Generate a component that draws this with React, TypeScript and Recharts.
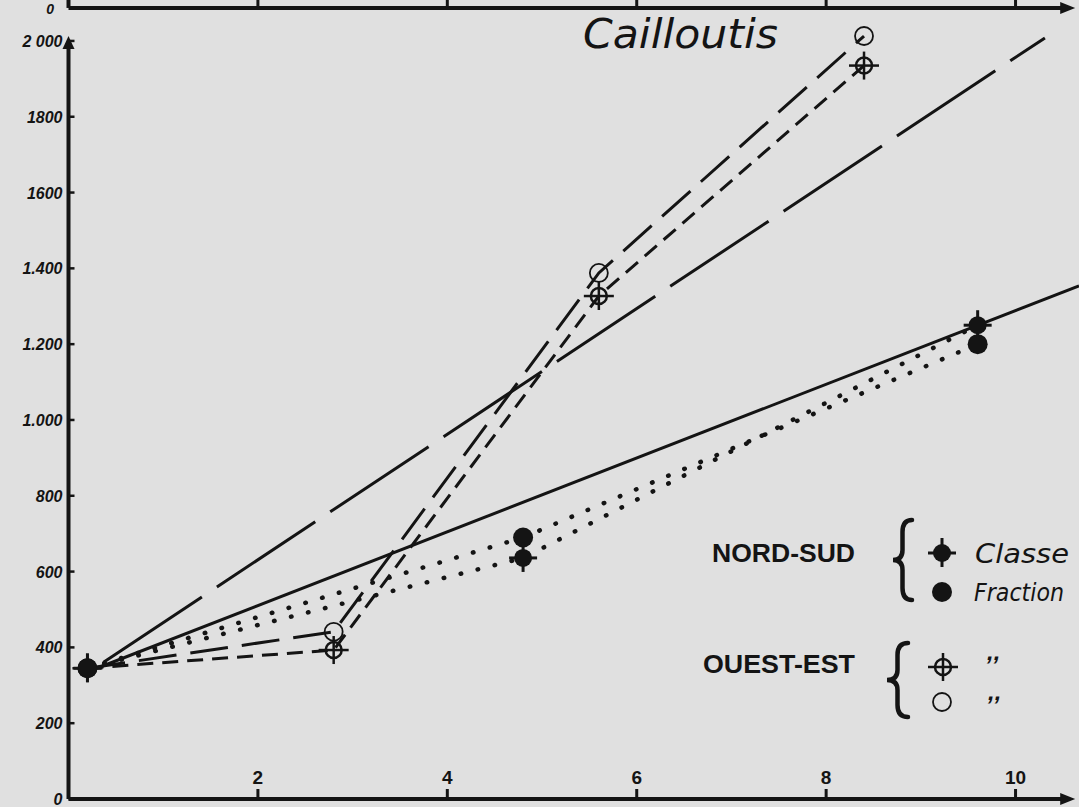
import React from 'react';
import { LineChart, Line, XAxis, YAxis, ReferenceLine, Legend } from 'recharts';

// ---------- data ----------
const nsClasseX = [0.2, 4.8, 9.6];
const nsClasseY = [345, 636, 1250];
const nsFractionX = [0.2, 4.8, 9.6];
const nsFractionY = [345, 690, 1200];
const oeClasseX = [0.2, 2.8, 5.6, 8.4];
const oeClasseY = [345, 393, 1327, 1935];
const oeFractionX = [0.2, 2.8, 5.6, 8.4];
const oeFractionY = [345, 441, 1388, 2013];
const nsTrendX = [0.3, 10.67];
const nsTrendY = [345, 1354];
const oeTrendX = [0.37, 10.31];
const oeTrendY = [361, 2008];

const xTicks = [2, 4, 6, 8, 10];
const xTickLabels = ['2', '4', '6', '8', '10'];
const yTicks = [0, 200, 400, 600, 800, 1000, 1200, 1400, 1600, 1800, 2000];
const yTickLabels = ['0', '200', '400', '600', '800', '1.000', '1.200', '1.400', '1600', '1800', '2 000'];
const topAxisTicks = [2, 4, 6, 8, 10];

const TITLE = 'Cailloutis';
const NS_LABEL = 'NORD-SUD';
const OE_LABEL = 'OUEST-EST';
const CLASSE_LABEL = 'Classe';
const FRACTION_LABEL = 'Fraction';
const DITTO = ',,';

// ---------- layout / style ----------
const W = 1079;
const H = 807;
const BG = '#e0e0e0';
const INK = '#141414';
const X_MAX = 10.67;
const Y_MAX = 2108;
const X_ARROW = 10.63;
const Y_ARROW = 2013;
const TOP_AXIS_Y = 2087;

const toPoints = (xs: number[], ys: number[]) => xs.map((x, i) => ({ x, y: ys[i] }));

const arrowShape = (len: number, half: number) => (p: any) => {
  const { x1, y1, x2, y2 } = p;
  const a = Math.atan2(y2 - y1, x2 - x1);
  const c = Math.cos(a);
  const s = Math.sin(a);
  const bx = x2 - len * c;
  const by = y2 - len * s;
  return (
    <g>
      <line x1={x1} y1={y1} x2={bx + c * 2} y2={by + s * 2} stroke={INK} strokeWidth={4} />
      <polygon
        points={`${x2},${y2} ${bx - half * s},${by + half * c} ${bx + half * s},${by - half * c}`}
        fill={INK}
      />
    </g>
  );
};

// ---------- markers ----------
const FilledCross = ({ cx, cy }: any) => (
  <g>
    <line x1={cx - 14} x2={cx + 14} y1={cy} y2={cy} stroke={INK} strokeWidth={3} />
    <line x1={cx} x2={cx} y1={cy - 15} y2={cy + 14} stroke={INK} strokeWidth={3} />
    <circle cx={cx} cy={cy} r={9} fill={INK} />
  </g>
);
const FilledDot = ({ cx, cy }: any) => <circle cx={cx} cy={cy} r={10} fill={INK} />;
const OpenCross = ({ cx, cy }: any) => (
  <g>
    <circle cx={cx} cy={cy} r={8} fill="none" stroke={INK} strokeWidth={2.5} />
    <line x1={cx - 15} x2={cx + 15} y1={cy} y2={cy} stroke={INK} strokeWidth={2.5} />
    <line x1={cx} x2={cx} y1={cy - 14} y2={cy + 14} stroke={INK} strokeWidth={2.5} />
  </g>
);
const OpenCircle = ({ cx, cy }: any) => (
  <circle cx={cx} cy={cy} r={9} fill="none" stroke={INK} strokeWidth={1.8} />
);

const dotOf = (Comp: any) => (p: any) => <Comp key={`m-${p.index}`} cx={p.cx} cy={p.cy} />;

// ---------- ticks ----------
const XTick = (p: any) => {
  const { x, y, index } = p;
  return (
    <g>
      <line x1={x} x2={x} y1={y} y2={y - 10} stroke={INK} strokeWidth={3} />
      <text
        x={x}
        y={y - 15}
        textAnchor="middle"
        fontFamily="Liberation Sans, Arial, sans-serif"
        fontWeight="bold"
        fontSize={19}
        fill={INK}
      >
        {xTickLabels[index]}
      </text>
    </g>
  );
};

const YTick = (p: any) => {
  const { x, y, index } = p;
  return (
    <g>
      <line x1={x} x2={x + 6} y1={y} y2={y} stroke={INK} strokeWidth={2.5} />
      <text
        x={x - 6}
        y={y + 6}
        textAnchor="end"
        fontFamily="Liberation Sans, Arial, sans-serif"
        fontWeight="bold"
        fontStyle="italic"
        fontSize={16}
        fill={INK}
      >
        {yTickLabels[index]}
      </text>
    </g>
  );
};

const brace = (xl: number, xr: number, yt: number, yb: number) => {
  const xm = (xl + xr) / 2;
  const ym = (yt + yb) / 2;
  return `M ${xr} ${yt} Q ${xm} ${yt} ${xm} ${yt + 12} L ${xm} ${ym - 10} Q ${xm} ${ym} ${xl} ${ym} Q ${xm} ${ym} ${xm} ${ym + 10} L ${xm} ${yb - 12} Q ${xm} ${yb} ${xr} ${yb}`;
};

const LegendContent = () => {
  const sans = 'Liberation Sans, Arial, sans-serif';
  const ital = 'DejaVu Sans, sans-serif';
  return (
    <svg width={389} height={220} style={{ overflow: 'visible', display: 'block' }}>
      <text x={22} y={52} fontFamily={sans} fontWeight="bold" fontSize={26} fill={INK} textLength={143} lengthAdjust="spacingAndGlyphs">
        {NS_LABEL}
      </text>
      <path d={brace(203, 222, 10, 90)} stroke={INK} strokeWidth={4.5} fill="none" strokeLinecap="round" />
      <FilledCross cx={252} cy={43} />
      <text x={285} y={53} fontFamily={ital} fontStyle="italic" fontSize={26} fill={INK} textLength={94} lengthAdjust="spacingAndGlyphs">
        {CLASSE_LABEL}
      </text>
      <FilledDot cx={252} cy={82} />
      <text x={284} y={91} fontFamily={ital} fontStyle="italic" fontSize={25} fill={INK} textLength={90} lengthAdjust="spacingAndGlyphs">
        {FRACTION_LABEL}
      </text>

      <text x={13} y={163} fontFamily={sans} fontWeight="bold" fontSize={26} fill={INK} textLength={152} lengthAdjust="spacingAndGlyphs">
        {OE_LABEL}
      </text>
      <path d={brace(197, 218, 133, 207)} stroke={INK} strokeWidth={4.5} fill="none" strokeLinecap="round" />
      <OpenCross cx={253} cy={157} />
      <text x={297} y={150} fontFamily={sans} fontWeight="bold" fontStyle="italic" fontSize={24} fill={INK}>
        {DITTO}
      </text>
      <OpenCircle cx={252} cy={192} />
      <text x={298} y={190} fontFamily={sans} fontWeight="bold" fontStyle="italic" fontSize={24} fill={INK}>
        {DITTO}
      </text>
    </svg>
  );
};

export default function App() {
  return (
    <div style={{ position: 'absolute', left: 0, top: 0, width: W, height: H, background: BG, overflow: 'hidden' }}>
      <LineChart width={W} height={H} margin={{ top: 0, right: 0, bottom: 0, left: 0 }} style={{ background: BG }}>
        <XAxis
          dataKey="x"
          type="number"
          domain={[0, X_MAX]}
          allowDataOverflow
          ticks={xTicks}
          interval={0}
          height={8}
          tickSize={0}
          tickMargin={0}
          axisLine={false}
          tickLine={false}
          tick={<XTick />}
        />
        <YAxis
          type="number"
          domain={[0, Y_MAX]}
          allowDataOverflow
          ticks={yTicks}
          interval={0}
          width={68.5}
          tickSize={0}
          tickMargin={0}
          axisLine={false}
          tickLine={false}
          tick={<YTick />}
        />

        {/* main axes with arrows */}
        <ReferenceLine segment={[{ x: 0, y: 0 }, { x: 0, y: Y_ARROW }]} ifOverflow="visible" shape={arrowShape(13, 6)} />
        <ReferenceLine segment={[{ x: 0, y: 0 }, { x: X_ARROW, y: 0 }]} ifOverflow="visible" shape={arrowShape(15, 6)} />

        {/* partial axis of the chart above */}
        <ReferenceLine segment={[{ x: 0, y: TOP_AXIS_Y }, { x: X_ARROW, y: TOP_AXIS_Y }]} ifOverflow="visible" shape={arrowShape(15, 6)} />
        <ReferenceLine segment={[{ x: 0, y: TOP_AXIS_Y }, { x: 0, y: Y_MAX }]} ifOverflow="visible" stroke={INK} strokeWidth={4} />
        {topAxisTicks.map((t) => (
          <ReferenceLine key={`tt-${t}`} segment={[{ x: t, y: TOP_AXIS_Y }, { x: t, y: Y_MAX }]} ifOverflow="visible" stroke={INK} strokeWidth={3} />
        ))}

        {/* trend lines */}
        <Line data={toPoints(nsTrendX, nsTrendY)} dataKey="y" stroke={INK} strokeWidth={3} dot={false} activeDot={false} isAnimationActive={false} />
        <Line data={toPoints(oeTrendX, oeTrendY)} dataKey="y" stroke={INK} strokeWidth={3} strokeDasharray="118 18" dot={false} activeDot={false} isAnimationActive={false} />

        {/* Ouest-Est */}
        <Line data={toPoints(oeFractionX, oeFractionY)} dataKey="y" name="Ouest-Est Fraction" stroke={INK} strokeWidth={3} strokeDasharray="38 14" dot={dotOf(OpenCircle)} activeDot={false} isAnimationActive={false} />
        <Line data={toPoints(oeClasseX, oeClasseY)} dataKey="y" name="Ouest-Est Classe" stroke={INK} strokeWidth={3} strokeDasharray="16 9" dot={dotOf(OpenCross)} activeDot={false} isAnimationActive={false} />

        {/* Nord-Sud */}
        <Line data={toPoints(nsFractionX, nsFractionY)} dataKey="y" name="Nord-Sud Fraction" stroke={INK} strokeWidth={4.5} strokeLinecap="round" strokeDasharray="0.5 17" dot={dotOf(FilledDot)} activeDot={false} isAnimationActive={false} />
        <Line data={toPoints(nsClasseX, nsClasseY)} dataKey="y" name="Nord-Sud Classe" stroke={INK} strokeWidth={4.5} strokeLinecap="round" strokeDasharray="0.5 17" dot={dotOf(FilledCross)} activeDot={false} isAnimationActive={false} />

        <Legend
          layout="horizontal"
          verticalAlign="middle"
          align="center"
          wrapperStyle={{ position: 'absolute', left: 690, top: 510, width: 389, height: 220 }}
          content={() => <LegendContent />}
        />
      </LineChart>

      <svg width={W} height={H} style={{ position: 'absolute', left: 0, top: 0, pointerEvents: 'none' }}>
        <text x={583} y={48} fontFamily="DejaVu Sans, sans-serif" fontStyle="italic" fontSize={40} fill={INK} textLength={195} lengthAdjust="spacingAndGlyphs">
          {TITLE}
        </text>
        <text x={54} y={14} textAnchor="end" fontFamily="Liberation Sans, Arial, sans-serif" fontWeight="bold" fontStyle="italic" fontSize={14} fill={INK}>
          0
        </text>
      </svg>
    </div>
  );
}
